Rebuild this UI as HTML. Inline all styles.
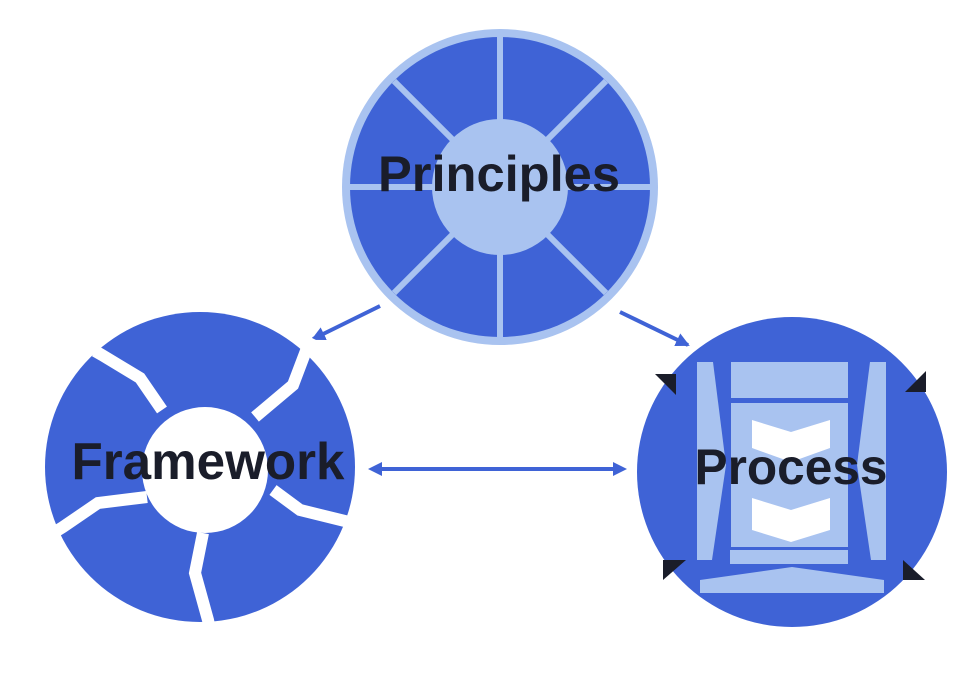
<!DOCTYPE html>
<html><head><meta charset="utf-8"><style>
html,body{margin:0;padding:0;background:#fff;}
svg{display:block}
text{font-family:"Liberation Sans",sans-serif;font-weight:bold;fill:#1a1d2a;}
</style></head><body>
<svg width="977" height="688" viewBox="0 0 977 688" xmlns="http://www.w3.org/2000/svg">
<defs>
<marker id="ah" markerWidth="14" markerHeight="14" refX="12" refY="7" orient="auto" markerUnits="userSpaceOnUse">
<path d="M0,0 L14,7 L0,14 Z" fill="#3f63d6"/></marker>
<marker id="ahs" markerWidth="14" markerHeight="14" refX="2" refY="7" orient="auto-start-reverse" markerUnits="userSpaceOnUse">
<path d="M0,0 L14,7 L0,14 Z" fill="#3f63d6"/></marker>
</defs>
<!-- Principles -->
<circle cx="500" cy="187" r="158" fill="#a9c3f0"/>
<circle cx="500" cy="187" r="150" fill="#3f63d6"/>
<g stroke="#a9c3f0" stroke-width="6">
<line x1="500" y1="37" x2="500" y2="337"/>
<line x1="350" y1="187" x2="650" y2="187"/>
<line x1="394" y1="81" x2="606" y2="293"/>
<line x1="606" y1="81" x2="394" y2="293"/>
</g>
<circle cx="500" cy="187" r="68" fill="#a9c3f0"/>
<text x="499" y="191" font-size="50" text-anchor="middle" textLength="242" lengthAdjust="spacingAndGlyphs">Principles</text>
<!-- arrows -->
<line x1="380" y1="306" x2="313" y2="339" stroke="#3f63d6" stroke-width="4" marker-end="url(#ah)"/>
<line x1="620" y1="312" x2="688" y2="345" stroke="#3f63d6" stroke-width="4" marker-end="url(#ah)"/>
<line x1="380" y1="469" x2="615" y2="469" stroke="#3f63d6" stroke-width="4" marker-start="url(#ahs)" marker-end="url(#ahs)"/>
<!-- Framework -->
<circle cx="200" cy="467" r="155" fill="#3f63d6"/>
<g stroke="#fff" stroke-width="12" fill="none" stroke-linejoin="miter">
<polyline points="162,410 140,378 102,355 95,351"/>
<polyline points="255,417 293,385 307,348 312,338"/>
<polyline points="273,490 300,510 353,523 362,525"/>
<polyline points="203,533 195,573 208,620 210,630"/>
<polyline points="147,497 98,503 63,527 50,535"/>
</g>
<circle cx="205" cy="470" r="63" fill="#fff"/>
<text x="208" y="479" font-size="52" text-anchor="middle" textLength="273" lengthAdjust="spacingAndGlyphs">Framework</text>
<!-- Process -->
<circle cx="792" cy="472" r="155" fill="#3f63d6"/>
<g fill="#a9c3f0">
<polygon points="697,362 713,362 726,465 712,560 697,560"/>
<polygon points="886,362 870,362 857,465 871,560 886,560"/>
<rect x="731" y="362" width="117" height="36"/>
<rect x="731" y="403" width="117" height="144"/>
<rect x="730" y="550" width="118" height="14"/>
<polygon points="700,580 792,567 884,580 884,593 700,593"/>
</g>
<g fill="#fff">
<polygon points="752,420 791,432 830,420 830,448 791,462 752,448"/>
<polygon points="752,498 791,510 830,498 830,530 791,542 752,530"/>
</g>
<g fill="#1a1d2a">
<polygon points="655,374 676,374 676,395"/>
<polygon points="905,392 926,371 926,392"/>
<polygon points="663,560 686,560 663,580"/>
<polygon points="903,560 903,580 925,580"/>
</g>
<text x="791" y="484" font-size="50" text-anchor="middle" textLength="193" lengthAdjust="spacingAndGlyphs">Process</text>
</svg>
</body></html>
